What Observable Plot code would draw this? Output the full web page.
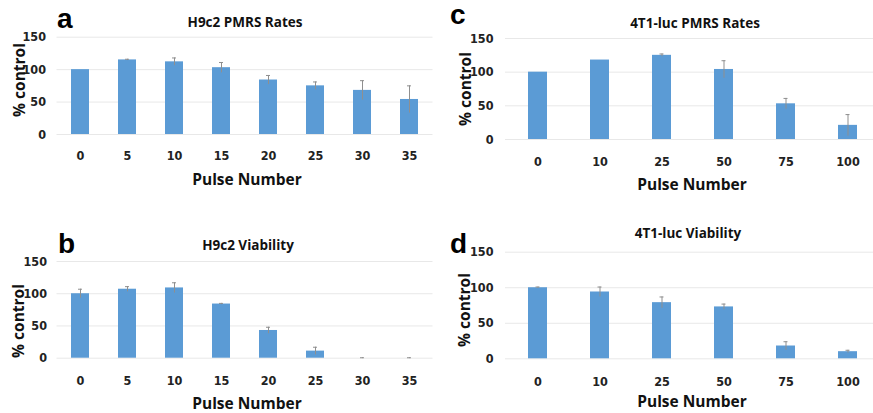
<!DOCTYPE html>
<html>
<head>
<meta charset="utf-8">
<script src="https://cdn.jsdelivr.net/npm/d3@7"></script>
<script src="https://cdn.jsdelivr.net/npm/@observablehq/plot@0.6"></script>
<style>
  html, body { margin: 0; padding: 0; background: #fff; }
  #wrap { position: relative; width: 873px; height: 413px; overflow: hidden; background: #fff; }
  .panel { position: absolute; }
  .lbl { position: absolute; white-space: nowrap; color: #111; font-family: "Open Sans", "Noto Sans", sans-serif; font-weight: 700; line-height: 1; }
  .letter { position: absolute; font-family: "Liberation Sans", Arial, sans-serif; font-weight: 700; font-size: 28px; line-height: 1; color: #000; }
  .title { font-size: 13.5px; transform: translateX(-50%); }
  .xlab { font-size: 15.5px; transform: translateX(-50%); }
  .ylab { font-size: 15.5px; transform: translate(-50%, -50%) rotate(-90deg); }
</style>
</head>
<body>
<div id="wrap"></div>
<script>
// ---- data ----
const pulsesH9c2 = ["0", "5", "10", "15", "20", "25", "30", "35"];
const pmrsH9c2 = [100, 115, 112, 103, 84, 75, 68, 54];
const pmrsH9c2Err = [0, 1, 6, 8, 7, 6, 15, 21];
const viabH9c2 = [100, 107, 109, 84, 43, 11, 0, 0];
const viabH9c2Err = [7, 4, 8, 1, 5, 6, 0.7, 0.7];

const pulses4T1 = ["0", "10", "25", "50", "75", "100"];
const pmrs4T1 = [100, 118, 125, 104, 53, 21];
const pmrs4T1Err = [0, 0, 2, 13, 8, 16];
const viab4T1 = [100, 94, 79, 73, 18, 10];
const viab4T1Err = [1, 7, 8, 4, 6, 2];

const yTicks = [0, 50, 100, 150];

const BAR = "#5b9bd5";
const ERR = "#8f8f8f";
const GRID = "#e8e8e8";

const wrap = document.getElementById("wrap");

function rows(pulses, vals, errs) {
  return pulses.map((p, i) => ({ pulse: p, value: vals[i], err: errs[i] }));
}

function panel(cfg) {
  const data = rows(cfg.pulses, cfg.vals, cfg.errs);
  const chart = Plot.plot({
    width: cfg.width,
    height: cfg.height,
    marginLeft: cfg.ml,
    marginRight: cfg.mr,
    marginTop: cfg.mt,
    marginBottom: cfg.mb,
    style: {
      fontFamily: "'Liberation Sans Narrow', 'DejaVu Sans Condensed', 'Roboto Condensed', Roboto, sans-serif",
      fontSize: "12.5px",
      fontWeight: "bold",
      color: "#222",
      background: "transparent",
      overflow: "visible"
    },
    x: { type: "band", domain: cfg.pulses, paddingInner: cfg.pad, paddingOuter: cfg.pad / 2, align: 0.5, label: null },
    y: { domain: [0, 150], label: null },
    marks: [
      Plot.gridY(yTicks, { stroke: GRID, strokeOpacity: 1 }),
      Plot.barY(data, { x: "pulse", y: "value", fill: BAR }),
      Plot.ruleX(data.filter(d => d.err > 0), { x: "pulse", y1: d => d.value - d.err, y2: d => d.value + d.err, stroke: ERR, strokeWidth: 1 }),
      Plot.tickY(data.filter(d => d.err > 0), { x: "pulse", y: d => d.value + d.err, stroke: ERR, strokeWidth: 1, insetLeft: cfg.capInset, insetRight: cfg.capInset }),
      Plot.axisY(yTicks, { tickSize: 0, tickPadding: cfg.ytp, label: null, fill: "#222" }),
      Plot.axisX({ tickSize: 0, tickPadding: cfg.xtp, label: null, fill: "#222" })
    ]
  });
  chart.classList.add("panel");
  chart.style.left = cfg.left + "px";
  chart.style.top = cfg.top + "px";
  wrap.appendChild(chart);
}

// a: H9c2 PMRS Rates
panel({ pulses: pulsesH9c2, vals: pmrsH9c2, errs: pmrsH9c2Err,
  left: 0, top: 0, width: 440, height: 200, ml: 56.5, mr: 7.5, mt: 36.7, mb: 66,
  pad: 0.62, capInset: 7, ytp: 11, xtp: 17 });
// b: H9c2 Viability
panel({ pulses: pulsesH9c2, vals: viabH9c2, errs: viabH9c2Err,
  left: 0, top: 200, width: 440, height: 213, ml: 56.5, mr: 7.5, mt: 61, mb: 55.3,
  pad: 0.62, capInset: 7, ytp: 10, xtp: 18 });
// c: 4T1-luc PMRS Rates
panel({ pulses: pulses4T1, vals: pmrs4T1, errs: pmrs4T1Err,
  left: 440, top: 0, width: 441, height: 200, ml: 65, mr: 1, mt: 38, mb: 61,
  pad: 0.7, capInset: 7.5, ytp: 12, xtp: 18 });
// d: 4T1-luc Viability
panel({ pulses: pulses4T1, vals: viab4T1, errs: viab4T1Err,
  left: 440, top: 200, width: 441, height: 213, ml: 65, mr: 1, mt: 51.7, mb: 54.7,
  pad: 0.7, capInset: 7.5, ytp: 12, xtp: 18 });

// ---- text labels ----
function addText(cls, text, x, y) {
  const el = document.createElement("div");
  el.className = cls;
  el.textContent = text;
  el.style.left = x + "px";
  el.style.top = y + "px";
  wrap.appendChild(el);
}
addText("letter", "a", 57, 5);
addText("letter", "b", 58, 230);
addText("letter", "c", 450, 1);
addText("letter", "d", 450, 230);

addText("lbl title", "H9c2 PMRS Rates", 245, 16);
addText("lbl title", "H9c2 Viability", 248, 239);
addText("lbl title", "4T1-luc PMRS Rates", 695, 17);
addText("lbl title", "4T1-luc Viability", 688, 227);

addText("lbl xlab", "Pulse Number", 247, 172);
addText("lbl xlab", "Pulse Number", 247, 396);
addText("lbl xlab", "Pulse Number", 692, 177);
addText("lbl xlab", "Pulse Number", 692, 394);

addText("lbl ylab", "% control", 20, 80);
addText("lbl ylab", "% control", 18.5, 321);
addText("lbl ylab", "% control", 466, 89);
addText("lbl ylab", "% control", 465, 310);
</script>
</body>
</html>
